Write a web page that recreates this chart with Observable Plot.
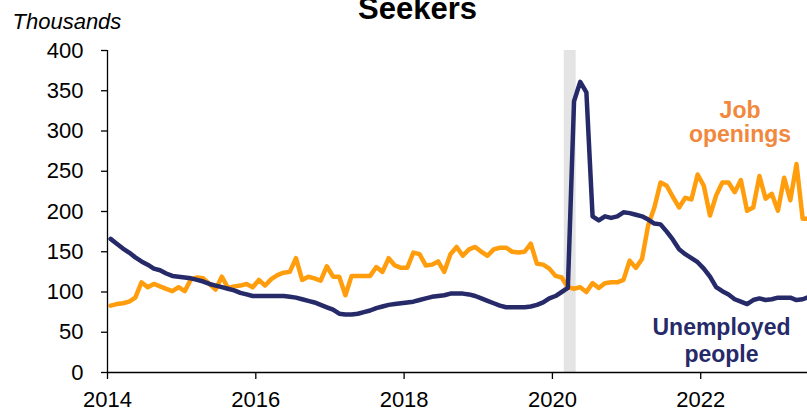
<!DOCTYPE html>
<html>
<head>
<meta charset="utf-8">
<script src="https://cdn.jsdelivr.net/npm/d3@7"></script>
<script src="https://cdn.jsdelivr.net/npm/@observablehq/plot@0.6"></script>
<style>
  html, body { margin: 0; padding: 0; background: #fff; overflow: hidden; }
</style>
</head>
<body>
<div id="chart"></div>
<script>
// Monthly series, thousands, starting January 2014
const startYear = 2014;

const jobOpenings = [
  83, 85, 86, 88, 93, 112, 106, 110, 107, 104,
  101, 106, 101, 116, 118, 117, 110, 103, 119, 105,
  107, 108, 110, 106, 115, 108, 116, 121, 124, 125,
  142, 115, 119, 117, 114, 132, 119, 119, 96, 120,
  120, 120, 120, 131, 125, 142, 133, 130, 130, 149,
  147, 133, 134, 138, 125, 147, 156, 145, 153, 156,
  150, 145, 153, 155, 155, 150, 149, 150, 160, 135,
  134, 129, 120, 118, 106, 104, 106, 100, 111, 105,
  111, 112, 112, 115, 139, 130, 141, 183, 205, 236,
  232, 218, 205, 217, 215, 246, 232, 195, 220, 236,
  236, 224, 239, 201, 205, 244, 216, 222, 201, 242,
  214, 259, 191, 191
];

const unemployedPeople = [
  166, 160, 154, 149, 143, 138, 134, 129, 127, 123,
  120, 119, 118, 117, 115, 113, 110, 108, 106, 104,
  102, 99, 97, 95, 95, 95, 95, 95, 95, 94,
  93, 91, 89, 87, 84, 81, 78, 73, 72, 72,
  73, 75, 77, 80, 82, 84, 85, 86, 87, 88,
  90, 92, 94, 95, 96, 98, 98, 98, 97, 95,
  92, 89, 86, 83, 81, 81, 81, 81, 82, 84,
  87, 92, 95, 100, 105, 337, 361, 348, 194, 189,
  194, 192, 194, 199, 198, 196, 194, 190, 185, 184,
  175, 165, 153, 147, 142, 137, 129, 119, 106, 101,
  97, 91, 88, 85, 90, 92, 90, 91, 93, 93,
  93, 90, 91, 94
];

// Recession shading (decimal years)
const recession = [{start: 2020.16, end: 2020.32}];

const xTicks = [2014, 2016, 2018, 2020, 2022];
const yTicks = [0, 50, 100, 150, 200, 250, 300, 350, 400];

const titleText = "Seekers";
const unitsText = "Thousands";
const openingsLabel = "Job\nopenings";
const unemployedLabel = "Unemployed\npeople";

const orange = "#FF9D0C";
const navy = "#262A69";

// Each observation sits at the middle of its month
const rows = jobOpenings.map((v, i) => ({
  date: startYear + (i + 0.5) / 12,
  openings: v,
  unemployed: unemployedPeople[i]
}));

const chart = Plot.plot({
  width: 807,
  height: 413,
  marginLeft: 107,
  marginRight: 0,
  marginTop: 50,
  marginBottom: 41,
  style: {
    fontFamily: "'Liberation Sans', Arial, sans-serif",
    fontSize: "22px",
    background: "#fff",
    color: "#000",
    overflow: "visible"
  },
  x: {domain: [2014, 2023.44], label: null},
  y: {domain: [0, 400], label: null},
  marks: [
    Plot.rect(recession, {x1: "start", x2: "end", y1: 0, y2: 400, fill: "#E4E4E4"}),
    Plot.line(rows, {x: "date", y: "openings", stroke: orange, strokeWidth: 4.5, clip: true}),
    Plot.line(rows, {x: "date", y: "unemployed", stroke: navy, strokeWidth: 4.5, clip: true}),
    Plot.ruleY([0], {stroke: "#000", strokeWidth: 1.3}),
    Plot.ruleX([2014], {y1: 0, y2: 400, stroke: "#000", strokeWidth: 1.3}),
    Plot.axisY({ticks: yTicks, tickSize: 6, tickPadding: 18, fontSize: 22, label: null, strokeWidth: 1.3}),
    Plot.axisX({ticks: xTicks, tickSize: 7, tickPadding: 12, fontSize: 22, label: null,
      tickFormat: d => String(d), strokeWidth: 1.3}),
    Plot.text([titleText], {frameAnchor: "top", dx: -40, dy: -32, lineAnchor: "bottom",
      fontSize: 31, fontWeight: "bold", fill: "#000"}),
    Plot.text([unitsText], {frameAnchor: "top-left", dx: -95, dy: -22, textAnchor: "start",
      lineAnchor: "bottom", fontSize: 22, fontStyle: "italic", fill: "#000"}),
    Plot.text([openingsLabel], {x: 2022.53, y: 286, lineAnchor: "bottom", lineHeight: 1.05,
      fontSize: 23, fontWeight: "bold", fill: "#F0883E"}),
    Plot.text([unemployedLabel], {x: 2022.28, y: 13, lineAnchor: "bottom", lineHeight: 1.16,
      fontSize: 23, fontWeight: "bold", fill: navy})
  ]
});

document.getElementById("chart").appendChild(chart);
</script>
</body>
</html>
